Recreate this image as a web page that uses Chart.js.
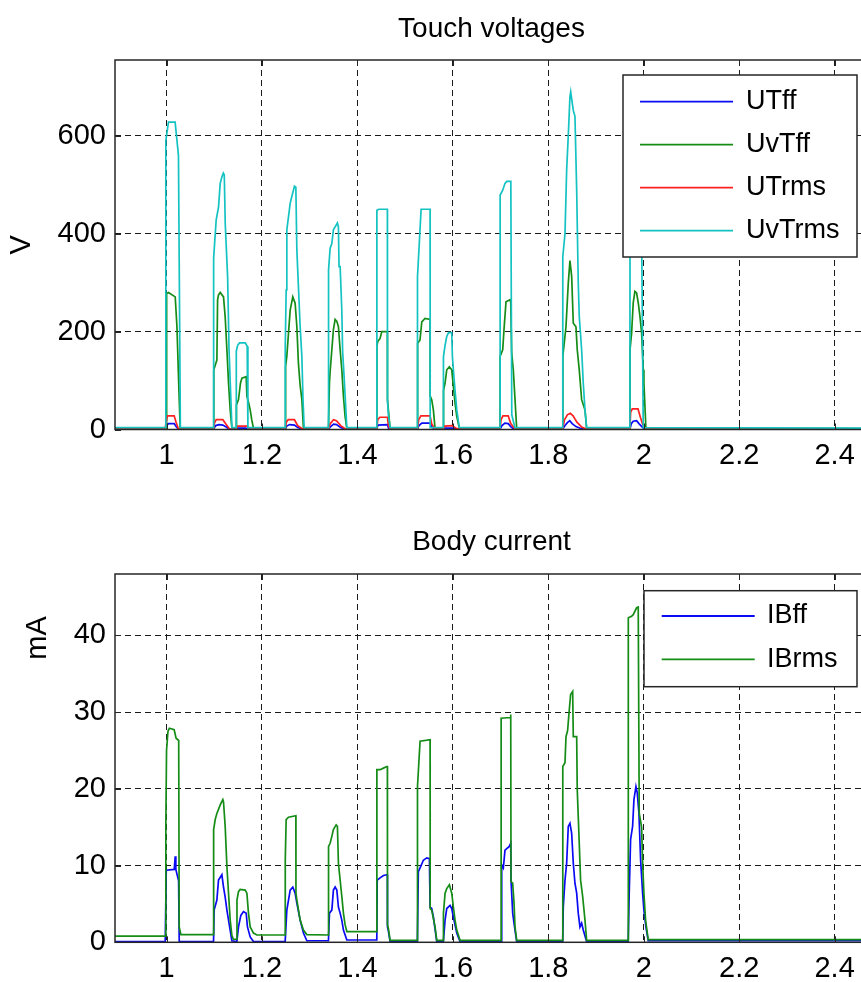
<!DOCTYPE html>
<html>
<head>
<meta charset="utf-8">
<script src="https://cdn.jsdelivr.net/npm/chart.js@4.4.1/dist/chart.umd.min.js"></script>
<style>
  html, body { margin:0; padding:0; background:#fff; overflow:hidden; width:861px; height:982px; }
  #c1 { position:absolute; left:0; top:0; }
  #c2 { position:absolute; left:0; top:490px; }
</style>
</head>
<body>
<canvas id="c1" width="880" height="490"></canvas>
<canvas id="c2" width="880" height="492"></canvas>
<script>
// ---------------- DATA ----------------
const xTicks = [1, 1.2, 1.4, 1.6, 1.8, 2, 2.2, 2.4];
const xTickLabels = ['1', '1.2', '1.4', '1.6', '1.8', '2', '2.2', '2.4'];
const yTicksV = [0, 200, 400, 600];
const yTicksMA = [0, 10, 20, 30, 40];
const X_MIN = 0.892, X_MAX = 2.47;
const V_MAX = 755, MA_MAX = 48;

// Touch voltages [time s, V]
const UTff = [[0.892,0.5],
 [0.997,0.5],[1.0,8],[1.004,12],[1.016,12],[1.02,6],[1.025,0.5],
 [1.0985,0.5],[1.103,8],[1.11,10],[1.118,9],[1.125,5],[1.132,0.5],
 [1.146,0.5],[1.15,3],[1.166,3],[1.17,0.5],
 [1.2486,0.5],[1.252,7],[1.258,10],[1.268,9],[1.275,4],[1.285,0.5],
 [1.3393,0.5],[1.344,6],[1.35,11],[1.356,10],[1.365,4],[1.375,0.5],
 [1.4406,0.5],[1.443,9],[1.4628,10],[1.465,3],[1.468,0.5],
 [1.5257,0.5],[1.529,8],[1.535,13],[1.5523,13],[1.556,5],[1.562,0.5],
 [1.5801,0.5],[1.584,3],[1.6,3],[1.61,0.5],
 [1.6989,0.5],[1.703,8],[1.709,13],[1.716,12],[1.7213,6],[1.728,0.5],
 [1.8302,0.5],[1.835,8],[1.84,14],[1.845,18],[1.85,12],[1.858,6],[1.868,2],[1.878,0.5],
 [1.9711,0.5],[1.974,12],[1.978,17],[1.985,18],[1.99,12],[1.996,6],[2.002,0.5],
 [2.47,0.5]];

const UvTff = [[0.892,2],
 [0.9994,2],[0.9996,160],[1.0008,278],[1.004,280],[1.0182,271],[1.0218,210],[1.0253,101],[1.0266,61],[1.0287,2],
 [1.0985,2],[1.099,122],[1.1055,142],[1.107,265],[1.1089,275],[1.1125,280],[1.1194,271],[1.1229,230],[1.1265,163],[1.1299,95],[1.1334,40],[1.137,2],
 [1.146,2],[1.1465,50],[1.1508,61],[1.155,95],[1.158,105],[1.1669,108],[1.1684,68],[1.172,55],[1.1753,40],[1.1785,20],[1.1822,2],
 [1.2486,2],[1.2495,129],[1.2521,150],[1.2591,244],[1.2646,271],[1.2695,258],[1.2731,210],[1.2764,135],[1.28,90],[1.2836,61],[1.2869,2],
 [1.3393,2],[1.3414,95],[1.3428,118],[1.3464,163],[1.3497,204],[1.3533,225],[1.3569,221],[1.3602,210],[1.3638,163],[1.3673,122],[1.3707,68],[1.3742,27],[1.3778,2],
 [1.4406,2],[1.4408,170],[1.4427,180],[1.4475,186],[1.4511,200],[1.4628,200],[1.463,61],[1.4649,40],[1.4685,2],
 [1.5257,2],[1.5262,176],[1.5312,183],[1.5349,220],[1.5418,227],[1.5523,225],[1.5525,68],[1.5557,61],[1.5592,40],[1.5627,2],
 [1.5801,2],[1.5805,80],[1.5837,95],[1.5872,122],[1.5927,128],[1.5977,122],[1.6011,88],[1.6046,54],[1.6082,27],[1.6136,2],
 [1.6989,2],[1.6991,150],[1.7045,163],[1.7072,204],[1.7114,261],[1.7198,265],[1.7213,260],[1.7233,156],[1.7267,122],[1.7303,61],[1.7338,2],
 [1.8302,2],[1.8305,150],[1.8371,210],[1.8419,299],[1.8454,345],[1.849,313],[1.8524,217],[1.858,210],[1.8607,163],[1.8649,122],[1.8699,61],[1.8769,40],[1.8804,2],
 [1.9711,2],[1.9713,163],[1.9746,197],[1.978,259],[1.9815,282],[1.9851,279],[1.9885,259],[1.9921,231],[1.9956,197],[1.999,122],[2.0004,95],[2.0046,2],
 [2.47,2]];

const UTrms = [[0.892,1],
 [0.997,1],[0.999,15],[1.002,28],[1.016,28],[1.02,15],[1.025,1],
 [1.0985,1],[1.1,12],[1.104,20],[1.118,20],[1.124,12],[1.132,1],
 [1.146,1],[1.149,7],[1.168,7],[1.175,1],
 [1.2486,1],[1.251,15],[1.255,20],[1.268,20],[1.275,8],[1.285,1],
 [1.3393,1],[1.343,12],[1.35,20],[1.356,18],[1.365,8],[1.375,1],
 [1.4406,1],[1.4425,20],[1.447,25],[1.4628,25],[1.465,8],[1.468,1],
 [1.5257,1],[1.5285,20],[1.533,28],[1.5523,28],[1.5555,12],[1.562,1],
 [1.5801,1],[1.583,7],[1.598,8],[1.606,3],[1.613,1],
 [1.6989,1],[1.701,20],[1.705,28],[1.716,28],[1.7213,12],[1.73,1],
 [1.8302,1],[1.834,20],[1.84,30],[1.846,33],[1.852,28],[1.86,15],[1.87,5],[1.88,1],
 [1.9711,1],[1.9725,35],[1.976,42],[1.988,42],[1.993,25],[1.998,10],[2.003,1],
 [2.47,1]];

const UvTrms = [[0.892,4],
 [0.997,4],[0.9985,590],[1.004,628],[1.018,628],[1.025,560],[1.029,4],
 [1.0985,4],[1.0987,350],[1.104,428],[1.109,455],[1.1125,503],[1.116,516],[1.119,524],[1.121,520],[1.123,421],[1.128,312],[1.131,163],[1.137,4],
 [1.146,4],[1.1462,160],[1.149,172],[1.153,177],[1.165,177],[1.169,170],[1.1705,4],
 [1.2486,4],[1.2488,169],[1.2507,285],[1.2521,408],[1.2591,462],[1.2625,476],[1.2681,497],[1.271,495],[1.2731,367],[1.28,210],[1.2836,149],[1.286,61],[1.2884,4],
 [1.3393,4],[1.3395,326],[1.3428,370],[1.3464,380],[1.3497,408],[1.3533,414],[1.358,422],[1.3602,414],[1.3615,333],[1.3638,333],[1.3673,244],[1.369,160],[1.372,110],[1.3742,70],[1.3778,4],
 [1.4406,4],[1.4408,448],[1.445,450],[1.4628,450],[1.463,60],[1.4649,30],[1.4685,4],
 [1.5257,4],[1.5259,312],[1.5335,450],[1.5523,450],[1.5525,4],
 [1.5801,4],[1.5803,149],[1.5837,172],[1.5872,190],[1.591,198],[1.5977,198],[1.599,150],[1.6011,122],[1.6046,80],[1.6082,40],[1.6136,4],
 [1.6989,4],[1.6991,479],[1.7045,489],[1.7093,503],[1.7129,507],[1.7215,507],[1.7235,30],[1.73,4],
 [1.8302,4],[1.8304,353],[1.835,400],[1.8385,530],[1.8419,601],[1.8454,680],[1.847,690],[1.8524,652],[1.8559,640],[1.8595,489],[1.8628,300],[1.8649,231],[1.8699,163],[1.8733,95],[1.8769,40],[1.8804,4],
 [1.9711,4],[1.9713,600],[1.975,680],[1.985,700],[1.995,690],[1.9956,400],[1.999,4],
 [2.47,3]];

// Body current [time s, mA]
const IBff = [[0.892,0.1],
 [0.9973,0.1],[0.9994,9.4],[1.0161,9.5],[1.0182,11.2],[1.0195,9.5],[1.0253,8.0],[1.0266,0.1],
 [1.0985,0.1],[1.0997,4.2],[1.1055,5.5],[1.1089,8.1],[1.116,8.8],[1.1194,7.2],[1.1229,5.9],[1.1265,4.2],[1.1299,2.9],[1.1369,0.2],
 [1.1474,0.1],[1.1508,2.0],[1.1557,3.5],[1.1613,4.0],[1.1669,3.8],[1.1696,2.0],[1.1753,0.7],[1.1822,0.1],
 [1.2486,0.1],[1.2521,4.2],[1.2591,6.8],[1.2646,7.2],[1.2695,6.4],[1.2731,5.1],[1.28,2.9],[1.2869,1.2],[1.294,0.2],
 [1.3393,0.2],[1.3414,3.8],[1.3464,4.2],[1.3497,6.8],[1.3533,7.2],[1.3569,6.8],[1.3602,4.6],[1.3638,3.8],[1.3673,2.9],[1.3707,1.6],[1.3778,0.3],
 [1.4406,0.3],[1.4415,8.1],[1.4475,8.4],[1.4545,8.7],[1.4616,8.8],[1.4628,8.8],[1.463,2.0],[1.4649,1.5],[1.4685,0.1],
 [1.5257,0.1],[1.5277,9.2],[1.5327,9.9],[1.5382,10.7],[1.5453,11.0],[1.5509,10.9],[1.5523,4.6],[1.5557,4.4],[1.5592,3.3],[1.5663,0.1],
 [1.5801,0.1],[1.5837,2.9],[1.5872,4.4],[1.5941,4.8],[1.5977,4.4],[1.6011,3.3],[1.6082,1.2],[1.6151,0.1],
 [1.701,0.1],[1.7024,10.1],[1.7058,9.7],[1.7093,12.0],[1.7183,12.5],[1.7213,12.9],[1.7219,8.1],[1.7254,3.8],[1.7282,2.5],[1.7338,0.1],
 [1.8302,0.1],[1.8314,4.6],[1.835,8.1],[1.8385,10.3],[1.8419,15.1],[1.8454,15.5],[1.849,14.2],[1.8524,10.3],[1.8559,7.7],[1.8595,6.4],[1.8628,3.8],[1.8664,2.0],[1.8699,2.5],[1.8733,1.6],[1.8804,0.1],
 [1.9675,0.1],[1.9696,6.4],[1.9725,13.4],[1.9767,15.1],[1.9795,18.6],[1.9837,20.3],[1.9864,19.5],[1.99,16.8],[1.9935,10.7],[1.9977,6.4],[2.0004,4.2],[2.0046,2.0],[2.0094,0.2],
 [2.47,0.2]];

const IBrms = [[0.892,0.8],
 [0.9973,0.8],[0.9985,15],[1.0,25],[1.003,27.5],[1.006,27.9],[1.016,27.7],[1.02,26.6],[1.0255,26.3],[1.0266,2.0],[1.0301,1.0],
 [1.0985,1.0],[1.0987,14.7],[1.102,16.0],[1.1055,16.8],[1.1125,17.9],[1.118,18.6],[1.1194,18.3],[1.1229,15.1],[1.1265,9.9],[1.1299,6.4],[1.1334,2.9],[1.1369,0.9],[1.14,0.4],
 [1.1474,0.4],[1.1476,5.5],[1.1508,6.6],[1.1543,6.9],[1.1648,6.8],[1.1684,6.4],[1.1717,3.8],[1.1753,2.0],[1.1822,1.2],[1.1893,0.95],
 [1.2486,0.95],[1.2488,10.7],[1.2507,16.0],[1.2555,16.3],[1.271,16.5],[1.2712,6.4],[1.2731,5.5],[1.28,2.9],[1.2869,1.6],[1.294,1.0],
 [1.3393,0.95],[1.3395,12.5],[1.3428,12.9],[1.3464,13.8],[1.3497,14.7],[1.3554,15.3],[1.3581,15.1],[1.3602,10.3],[1.3638,8.1],[1.3673,6.0],[1.3707,3.8],[1.3742,2.3],[1.3778,1.4],
 [1.4406,1.4],[1.4408,22.5],[1.4475,22.5],[1.4545,22.7],[1.4616,22.9],[1.4628,22.9],[1.463,2.3],[1.4649,1.8],[1.4685,0.25],
 [1.5257,0.25],[1.5259,20.3],[1.5313,26.2],[1.5523,26.4],[1.5525,4.4],[1.5557,4.2],[1.5592,3.1],[1.5627,2.0],[1.5663,0.25],
 [1.5801,0.25],[1.5803,3.8],[1.5837,6.4],[1.5872,7.0],[1.5927,7.5],[1.5977,6.4],[1.6011,4.6],[1.6046,2.9],[1.6082,1.6],[1.6151,0.25],
 [1.701,0.25],[1.7012,29.2],[1.7198,29.3],[1.7213,29.7],[1.7219,7.9],[1.7254,7.7],[1.7282,5.1],[1.7303,2.0],[1.7338,0.25],
 [1.8302,0.25],[1.8304,22.9],[1.835,23.4],[1.8371,26.8],[1.8405,27.6],[1.8436,30.0],[1.8468,32.3],[1.8511,32.7],[1.8524,26.8],[1.8595,26.8],[1.8607,19.9],[1.8649,12.9],[1.8677,8.1],[1.872,6.0],[1.8769,2.9],[1.8804,0.25],
 [1.9675,0.25],[1.9677,42.3],[1.9746,42.5],[1.978,42.7],[1.9851,43.6],[1.9885,43.7],[1.9906,16.8],[1.9956,15],[1.9975,10.7],[2.0004,6.4],[2.0039,2.9],[2.0094,0.35],
 [2.47,0.35]];

// ---------------- STYLE / BUILD ----------------
const FONT = 'Liberation Sans, Arial, Helvetica, sans-serif';
const COLORS = { blue:'#0a0af5', green:'#158c15', red:'#ff2020', cyan:'#14c2c2' };
Chart.defaults.color = '#000';
Chart.defaults.font.family = FONT;

const pts = arr => arr.map(p => ({ x: p[0], y: p[1] }));

const matlabAxes = {
  id: 'matlabAxes',
  afterDatasetsDraw(chart, args, opts) {
    const { ctx, chartArea: { left, top, right, bottom }, scales: { x, y } } = chart;
    ctx.save();
    ctx.setLineDash([]);
    ctx.strokeStyle = '#262626';
    ctx.lineWidth = 1;
    ctx.beginPath();
    x.ticks.forEach(t => {
      const px = Math.round(x.getPixelForValue(t.value)) + 0.5;
      ctx.moveTo(px, bottom); ctx.lineTo(px, bottom - 6);
      ctx.moveTo(px, top); ctx.lineTo(px, top + 6);
    });
    y.ticks.forEach(t => {
      const py = Math.round(y.getPixelForValue(t.value)) + 0.5;
      ctx.moveTo(left, py); ctx.lineTo(left + 6, py);
      ctx.moveTo(right, py); ctx.lineTo(right - 6, py);
    });
    ctx.stroke();
    ctx.lineWidth = 1.5;
    ctx.strokeRect(left, top, right - left, bottom - top);
    ctx.restore();
  },
  afterDraw(chart, args, opts) {
    const { ctx } = chart;
    const YL = opts.yLabel;
    if (YL) {
      ctx.save();
      ctx.fillStyle = '#000';
      ctx.font = YL.fontSize + 'px ' + FONT;
      ctx.textAlign = 'center';
      ctx.textBaseline = 'middle';
      ctx.translate(YL.x, YL.y);
      ctx.rotate(-Math.PI / 2);
      ctx.fillText(YL.text, 0, 0);
      ctx.restore();
    }
    const L = opts.legend;
    if (!L) return;
    ctx.save();
    ctx.setLineDash([]);
    ctx.fillStyle = '#fff';
    ctx.fillRect(L.x, L.y, L.w, L.h);
    ctx.strokeStyle = '#262626';
    ctx.lineWidth = 1.5;
    ctx.strokeRect(L.x, L.y, L.w, L.h);
    ctx.font = L.fontSize + 'px ' + FONT;
    ctx.textBaseline = 'middle';
    ctx.textAlign = 'left';
    L.items.forEach((idx, i) => {
      const ds = chart.data.datasets[idx];
      const ry = L.y + L.firstRow + i * L.rowGap;
      ctx.strokeStyle = ds.borderColor;
      ctx.lineWidth = 1.8;
      ctx.beginPath();
      ctx.moveTo(L.x + L.lineX0, ry); ctx.lineTo(L.x + L.lineX1, ry);
      ctx.stroke();
      ctx.fillStyle = '#000';
      ctx.fillText(ds.label, L.x + L.textX, ry);
    });
    ctx.restore();
  }
};

function makeChart(canvasId, cfg) {
  const tickFont = { family: FONT, size: 29 };
  return new Chart(document.getElementById(canvasId), {
    type: 'line',
    data: { datasets: cfg.datasets },
    options: {
      responsive: false,
      animation: false,
      devicePixelRatio: 1,
      events: [],
      layout: { padding: { left: 0, right: 12, top: 0, bottom: 0 } },
      elements: { point: { radius: 0 }, line: { borderWidth: 1.7, tension: 0 } },
      plugins: {
        legend: { display: false },
        tooltip: { enabled: false },
        title: {
          display: true, text: cfg.title, fullSize: false, color: '#000',
          font: { family: FONT, size: 28, weight: 'normal' },
          padding: cfg.titlePad
        },
        matlabAxes: { legend: cfg.legend, yLabel: cfg.yLabelPlaced }
      },
      scales: {
        x: {
          type: 'linear', min: X_MIN, max: X_MAX,
          afterBuildTicks: s => { s.ticks = xTicks.map(v => ({ value: v })); },
          afterFit: s => { s.height = cfg.xAxisHeight; },
          ticks: {
            autoSkip: false, maxRotation: 0, padding: 9, font: tickFont, color: '#000',
            callback: v => xTickLabels[xTicks.indexOf(v)]
          },
          grid: { color: '#1a1a1a', lineWidth: 1, drawTicks: false },
          border: { display: false, dash: [6, 4] }
        },
        y: {
          type: 'linear', min: 0, max: cfg.yMax,
          afterBuildTicks: s => { s.ticks = cfg.yTicks.map(v => ({ value: v })); },
          afterFit: s => { s.width = 115; },
          ticks: { padding: 9, font: tickFont, color: '#000', callback: v => String(v) },
          grid: { color: '#1a1a1a', lineWidth: 1, drawTicks: false },
          border: { display: false, dash: [6, 4] },
          title: { display: !!cfg.yLabel, text: cfg.yLabel || '', color: '#000',
                   font: { family: FONT, size: 29 }, padding: { top: cfg.yTitlePad || 0, bottom: 0 } }
        }
      }
    },
    plugins: [matlabAxes]
  });
}

makeChart('c1', {
  title: 'Touch voltages',
  titlePad: { top: 12, bottom: 14.4 },
  xAxisHeight: 60.5,
  yMax: V_MAX, yTicks: yTicksV, yLabel: 'V', yTitlePad: 5,
  datasets: [
    { label: 'UTff',   data: pts(UTff),   borderColor: COLORS.blue,  order: 3 },
    { label: 'UvTff',  data: pts(UvTff),  borderColor: COLORS.green, order: 2 },
    { label: 'UTrms',  data: pts(UTrms),  borderColor: COLORS.red,   order: 1 },
    { label: 'UvTrms', data: pts(UvTrms), borderColor: COLORS.cyan,  order: 0 }
  ],
  legend: { x: 623, y: 75, w: 234, h: 182, firstRow: 26.7, rowGap: 43, lineX0: 17, lineX1: 110, textX: 123, fontSize: 27, items: [0, 1, 2, 3] }
});

makeChart('c2', {
  title: 'Body current',
  titlePad: { top: 35.2, bottom: 15.2 },
  xAxisHeight: 39.7,
  yMax: MA_MAX, yTicks: yTicksMA, yLabel: null,
  yLabelPlaced: { text: 'mA', x: 38, y: 148, fontSize: 29 },
  datasets: [
    { label: 'IBff',  data: pts(IBff),  borderColor: COLORS.blue,  order: 1 },
    { label: 'IBrms', data: pts(IBrms), borderColor: COLORS.green, order: 0 }
  ],
  legend: { x: 644, y: 100.7, w: 213, h: 96, firstRow: 25.3, rowGap: 43.3, lineX0: 17.7, lineX1: 110.7, textX: 123, fontSize: 27, items: [0, 1] }
});
</script>
</body>
</html>
